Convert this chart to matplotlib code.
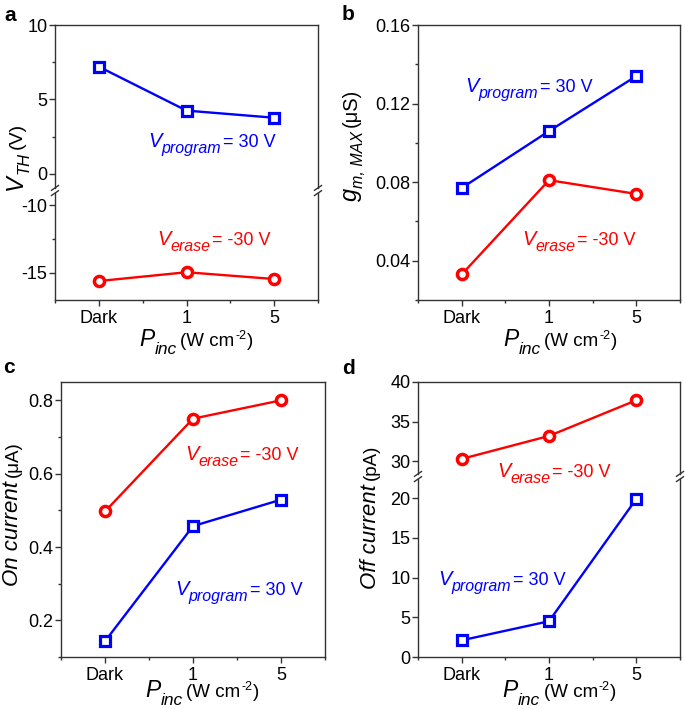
import matplotlib
matplotlib.use('Agg')
import matplotlib.pyplot as plt
from matplotlib.transforms import IdentityTransform
from matplotlib.lines import Line2D
from matplotlib.ticker import MultipleLocator

plt.rcParams['font.family'] = ['Liberation Sans', 'DejaVu Sans']
plt.rcParams['axes.unicode_minus'] = False

# ---------------- data ----------------
categories = ['Dark', '1', '5']
vth_program = [7.2, 4.25, 3.77]
vth_erase = [-15.6, -14.95, -15.45]
gm_program = [0.077, 0.106, 0.134]
gm_erase = [0.033, 0.081, 0.074]
ion_program = [0.143, 0.457, 0.529]
ion_erase = [0.497, 0.75, 0.80]
ioff_program = [2.1, 4.5, 19.9]
ioff_erase = [30.3, 33.2, 37.7]

BLUE = '#0000FF'
RED = '#FF0000'
SPINE = '#333333'

W, H = 685, 709
fig = plt.figure(figsize=(W / 100, H / 100), dpi=100)
R = fig.canvas.get_renderer()
PIX = IdentityTransform()


def add_ax(l, t, r, b):
    return fig.add_axes([l / W, 1 - b / H, (r - l) / W, (b - t) / H])


def style(ax, xaxis=True):
    for s in ax.spines.values():
        s.set_linewidth(1.0)
        s.set_color(SPINE)
    ax.tick_params(which='both', direction='out', right=False, top=False,
                   labelsize=13, width=1.0, color=SPINE)
    ax.tick_params(which='major', length=4)
    ax.tick_params(which='minor', length=2.5)
    ax.tick_params(axis='y', which='major', pad=1.5)
    ax.tick_params(axis='x', which='major', pad=3)
    ax.set_xlim(-0.5, len(categories) - 0.5)
    x = list(range(len(categories)))
    ax.set_xticks(x)
    if xaxis:
        ax.set_xticklabels(categories)
        ax.xaxis.set_minor_locator(MultipleLocator(0.5))
    else:
        ax.tick_params(axis='x', which='both', bottom=False, labelbottom=False)


def plot_series(ax, y, kind, clip=False):
    x = list(range(len(categories)))
    if kind == 'p':
        ax.plot(x, y, color=BLUE, lw=1.7, marker='s', ms=6.7, mew=2.3,
                mfc='white', mec=BLUE, zorder=3, clip_on=clip)
    else:
        ax.plot(x, y, color=RED, lw=1.7, marker='o', ms=7.3, mew=2.5,
                mfc='white', mec=RED, zorder=3, clip_on=clip)


def break_marks(x_img, y_mid):
    for dy in (-2.6, 2.6):
        yc = H - (y_mid + dy)
        fig.add_artist(Line2D([x_img - 3.5, x_img + 3.5], [yc - 2.4, yc + 2.4],
                              transform=PIX, color=SPINE, lw=1.0))


def pieces_text(pieces, x, y, rotation=0, color='k', center=True):
    """pieces: (text, size, style, shift_px, gap_px). x,y in image pixels.
    horizontal: x = center/left, y = baseline.  vertical: x = baseline, y = center."""
    objs = []
    total = 0.0
    for s, size, st, shift, gap in pieces:
        t = fig.text(0, 0, s, fontsize=size, style=st, color=color,
                     rotation=rotation, rotation_mode='anchor',
                     ha='left', va='baseline', transform=PIX)
        bb = t.get_window_extent(R)
        L = bb.width if rotation == 0 else bb.height
        objs.append((t, total + gap, shift))
        total += gap + L
    if rotation == 0:
        start = x - total / 2 if center else x
        for t, off, shift in objs:
            t.set_position((start + off, H - y + shift))
    else:
        start = (H - y) - total / 2
        for t, off, shift in objs:
            t.set_position((x - shift, start + off))


def xlabel(cx, baseline):
    pieces_text([('P', 16.5, 'italic', 0, 0),
                 ('inc', 12.5, 'italic', -8, 0),
                 ('(W cm', 13.5, 'normal', 0, 4),
                 ('-2', 9, 'normal', 7, 0.5),
                 (')', 13.5, 'normal', 0, 0.5)], cx, baseline)


def ann_program(x, y):
    pieces_text([('V', 14.5, 'italic', 0, 0),
                 ('program', 11.5, 'italic', -6, 0),
                 ('= 30 V', 13, 'normal', 0, 2)], x, y, color=BLUE, center=False)


def ann_erase(x, y):
    pieces_text([('V', 14.5, 'italic', 0, 0),
                 ('erase', 11.5, 'italic', -6, 0),
                 ('= -30 V', 13, 'normal', 0, 2)], x, y, color=RED, center=False)


# ---------------- panel a ----------------
a_top = add_ax(55, 25, 318, 188)
a_bot = add_ax(55, 193, 318, 300)
style(a_top, xaxis=False)
style(a_bot)
a_top.spines['bottom'].set_visible(False)
a_bot.spines['top'].set_visible(False)
a_top.set_ylim(-0.95, 10)
a_top.set_yticks([0, 5, 10])
a_top.yaxis.set_minor_locator(MultipleLocator(2.5))
a_bot.set_ylim(-17, -9.1)
a_bot.set_yticks([-15, -10])
a_bot.yaxis.set_minor_locator(MultipleLocator(2.5))
plot_series(a_top, vth_program, 'p')
plot_series(a_bot, vth_erase, 'e')
break_marks(55, 190.5)
break_marks(318, 190.5)
ann_program(148, 147)
ann_erase(157, 245)
xlabel(196, 346)
pieces_text([('V', 17, 'italic', 0, 0),
             ('TH', 12, 'italic', -7, 0),
             ('(V)', 14, 'normal', 0, 3)], 22, 156, rotation=90)
fig.text(4, H - 21, 'a', fontsize=15, fontweight='bold', transform=PIX)

# ---------------- panel b ----------------
b_ax = add_ax(418, 25, 680, 300)
style(b_ax)
b_ax.set_ylim(0.02, 0.16)
b_ax.set_yticks([0.04, 0.08, 0.12, 0.16])
b_ax.yaxis.set_minor_locator(MultipleLocator(0.02))
plot_series(b_ax, gm_program, 'p')
plot_series(b_ax, gm_erase, 'e')
ann_program(465, 92)
ann_erase(522, 245)
xlabel(560, 346)
pieces_text([('g', 17, 'italic', 0, 0),
             ('m, MAX', 11.5, 'italic', -6, 0),
             ('(\u03bcS)', 14.5, 'normal', 0, 4)], 357, 145, rotation=90)
fig.text(342, H - 20, 'b', fontsize=15, fontweight='bold', transform=PIX)

# ---------------- panel c ----------------
c_ax = add_ax(61, 382, 325, 657)
style(c_ax)
c_ax.set_ylim(0.1, 0.85)
c_ax.set_yticks([0.2, 0.4, 0.6, 0.8])
c_ax.yaxis.set_minor_locator(MultipleLocator(0.1))
plot_series(c_ax, ion_erase, 'e')
plot_series(c_ax, ion_program, 'p')
ann_erase(185, 460)
ann_program(175, 595)
xlabel(202, 697)
pieces_text([('On current', 16, 'italic', 0, 0),
             ('(\u03bcA)', 13.5, 'normal', 0, 4)], 18, 514, rotation=90)
fig.text(3, H - 373, 'c', fontsize=15, fontweight='bold', transform=PIX)

# ---------------- panel d ----------------
d_top = add_ax(418, 382, 680, 474)
d_bot = add_ax(418, 479, 680, 657)
style(d_top, xaxis=False)
style(d_bot)
d_top.spines['bottom'].set_visible(False)
d_bot.spines['top'].set_visible(False)
d_top.set_ylim(28.4, 40)
d_top.set_yticks([30, 35, 40])
d_bot.set_ylim(0, 22.4)
d_bot.set_yticks([0, 5, 10, 15, 20])
plot_series(d_top, ioff_erase, 'e')
plot_series(d_bot, ioff_program, 'p')
break_marks(418, 476.5)
break_marks(680, 476.5)
ann_erase(497, 477)
ann_program(438, 585)
xlabel(559, 697)
pieces_text([('Off current', 16, 'italic', 0, 0),
             ('(pA)', 13.5, 'normal', 0, 4)], 376, 517, rotation=90)
fig.text(342, H - 374, 'd', fontsize=15, fontweight='bold', transform=PIX)

fig.savefig('out.png', dpi=100)
